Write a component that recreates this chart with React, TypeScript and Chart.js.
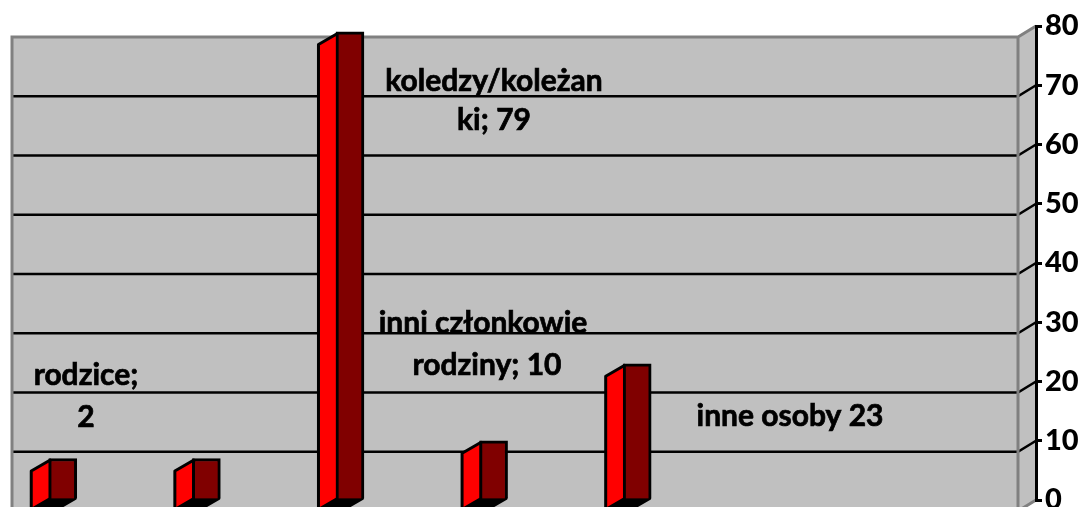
import React, { useEffect, useRef } from "react";
import { Chart, registerables } from "chart.js";

Chart.register(...registerables);

const categories = ["rodzice", "rodzeństwo", "koledzy/koleżanki", "inni członkowie rodziny", "inne osoby"];
const values = [7, 7, 79, 10, 23];
const yTicksMax = 80;
const yStep = 10;
const labelLines = [
  "rodzice;",
  "2",
  "koledzy/koleżan",
  "ki; 79",
  "inni członkowie",
  "rodziny; 10",
  "inne osoby 23",
];

const FONT = "Lato, Carlito, Calibri, sans-serif";
const DX = 18;
const DY = 11;
const BAR_DX = 19;
const labelAnchors = [
  [86, 375],
  [86, 417],
  [494, 81],
  [494, 120],
  [483, 323],
  [487, 365],
  [790, 416],
];

const wallPlugin = {
  id: "walls",
  beforeDraw(chart: any) {
    const { ctx, chartArea, scales } = chart;
    const y = scales.y;
    const right = chartArea.right;
    const left = chartArea.left;
    const top = y.getPixelForValue(yTicksMax);
    const bottom = y.getPixelForValue(0);
    ctx.save();
    ctx.fillStyle = "#ffffff";
    ctx.fillRect(0, 0, chart.width, chart.height);
    ctx.fillStyle = "#c0c0c0";
    ctx.fillRect(left - DX, top + DY, right - left, bottom - top);
    ctx.beginPath();
    ctx.moveTo(right - DX, top + DY);
    ctx.lineTo(right, top);
    ctx.lineTo(right, bottom);
    ctx.lineTo(right - DX, bottom + DY);
    ctx.closePath();
    ctx.fill();
    ctx.strokeStyle = "#000000";
    ctx.lineWidth = 2.6;
    for (let v = yStep; v < yTicksMax; v += yStep) {
      const py = y.getPixelForValue(v);
      ctx.beginPath();
      ctx.moveTo(left - DX, py + DY);
      ctx.lineTo(right - DX, py + DY);
      ctx.lineTo(right, py);
      ctx.stroke();
    }
    ctx.strokeStyle = "#808080";
    ctx.lineWidth = 3;
    ctx.beginPath();
    ctx.moveTo(left - DX, bottom + DY);
    ctx.lineTo(left - DX, top + DY);
    ctx.lineTo(right - DX, top + DY);
    ctx.lineTo(right, top);
    ctx.moveTo(right - DX, top + DY);
    ctx.lineTo(right - DX, bottom + DY);
    ctx.lineTo(right, bottom);
    ctx.stroke();
    ctx.restore();
  },
  beforeDatasetsDraw(chart: any) {
    const { ctx } = chart;
    const bars = chart.getDatasetMeta(0).data;
    ctx.save();
    ctx.lineWidth = 3;
    ctx.strokeStyle = "#000000";
    ctx.lineJoin = "round";
    bars.forEach((bar: any) => {
      const l = bar.x - bar.width / 2 + 1.5;
      const r = bar.x + bar.width / 2 - 1.5;
      const t = bar.y + 1.5;
      const b = bar.base;
      ctx.fillStyle = "#000000";
      ctx.beginPath();
      ctx.moveTo(l, b);
      ctx.lineTo(r, b);
      ctx.lineTo(r - BAR_DX, b + DY);
      ctx.lineTo(l - BAR_DX, b + DY);
      ctx.closePath();
      ctx.fill();
      ctx.stroke();
      ctx.fillStyle = "#ff0000";
      ctx.beginPath();
      ctx.moveTo(l, t);
      ctx.lineTo(l - BAR_DX, t + DY);
      ctx.lineTo(l - BAR_DX, b + DY);
      ctx.lineTo(l, b);
      ctx.closePath();
      ctx.fill();
      ctx.stroke();
    });
    ctx.restore();
  },
  afterDatasetsDraw(chart: any) {
    const { ctx } = chart;
    ctx.save();
    ctx.fillStyle = "#000000";
    ctx.strokeStyle = "#000000";
    ctx.lineWidth = 0.7;
    ctx.font = `bold 30px ${FONT}`;
    ctx.textAlign = "center";
    ctx.textBaseline = "middle";
    labelLines.forEach((line, i) => {
      ctx.fillText(line, labelAnchors[i][0], labelAnchors[i][1]);
      ctx.strokeText(line, labelAnchors[i][0], labelAnchors[i][1]);
    });
    ctx.restore();
  },
};

export default function App() {
  const ref = useRef<HTMLCanvasElement | null>(null);
  useEffect(() => {
    const chart = new Chart(ref.current as HTMLCanvasElement, {
      type: "bar",
      data: {
        labels: categories,
        datasets: [
          {
            data: values.map((v, i) => ({ x: i + 1, y: v })),
            backgroundColor: "#800000",
            borderColor: "#000000",
            borderWidth: 3,
            borderSkipped: "bottom",
            barThickness: 28,
          },
        ],
      },
      options: {
        responsive: false,
        animation: false,
        events: [],
        layout: { padding: { left: 30, top: 26, right: 0, bottom: 40 } },
        plugins: { legend: { display: false }, tooltip: { enabled: false } },
        scales: {
          x: { type: "linear", display: false, min: 0.772, max: 7.777, offset: false },
          y: {
            position: "right",
            min: 0,
            max: yTicksMax,
            afterFit: (s: any) => {
              s.width = 47;
            },
            ticks: {
              stepSize: yStep,
              color: "#000000",
              font: { family: FONT, size: 29, weight: "900" },
              padding: 3,
            },
            grid: {
              drawOnChartArea: false,
              drawTicks: true,
              tickLength: 6,
              color: "#000000",
              lineWidth: 3,
            },
            border: { display: true, color: "#000000", width: 3 },
          },
        },
      },
      plugins: [wallPlugin],
    } as any);
    return () => chart.destroy();
  }, []);
  return (
    <div style={{ position: "fixed", left: 0, top: 0, width: 1083, height: 507, overflow: "hidden", background: "#fff" }}>
      <canvas ref={ref} width={1083} height={540} style={{ display: "block" }} />
    </div>
  );
}
